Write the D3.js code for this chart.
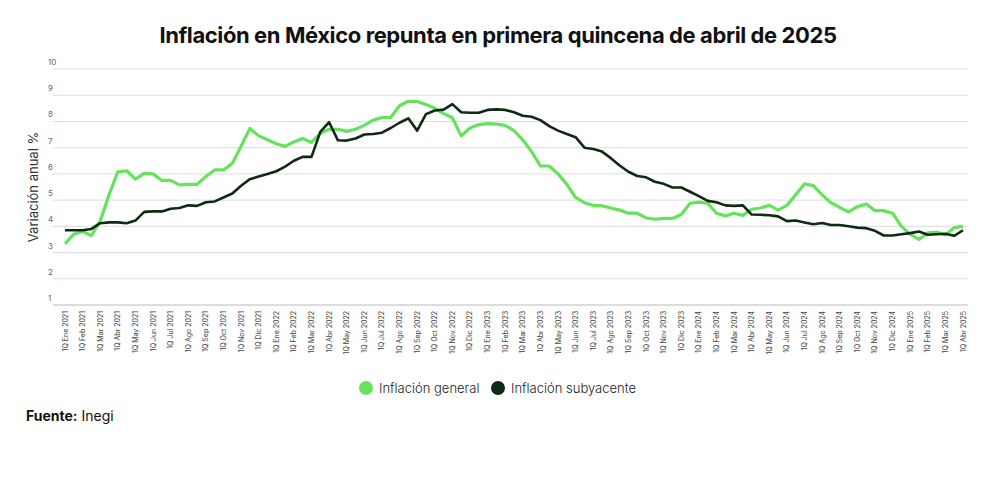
<!DOCTYPE html>
<html><head><meta charset="utf-8">
<script src="https://cdn.jsdelivr.net/npm/d3@7"></script>
<style>body{margin:0;background:#fff;font-family:Inter,"Noto Sans",sans-serif}</style>
</head><body><svg id="chart" width="1000" height="480"></svg>
<script>
const meses = ["Ene","Feb","Mar","Abr","May","Jun","Jul","Ago","Sep","Oct","Nov","Dic"]
// quincenas from 1Q Ene 2021 to 1Q Abr 2025
const general = [3.33,3.7,3.8,3.65,4.2,5.2,6.08,6.12,5.8,6.02,6.0,5.75,5.75,5.58,5.6,5.6,5.9,6.15,6.15,6.4,7.05,7.73,7.45,7.3,7.15,7.05,7.22,7.35,7.2,7.55,7.7,7.7,7.62,7.7,7.85,8.05,8.15,8.15,8.6,8.77,8.76,8.65,8.5,8.3,8.14,7.45,7.75,7.88,7.92,7.9,7.85,7.65,7.3,6.85,6.3,6.3,6.0,5.6,5.1,4.9,4.8,4.78,4.7,4.62,4.5,4.5,4.32,4.27,4.3,4.3,4.45,4.88,4.92,4.88,4.5,4.4,4.5,4.42,4.65,4.7,4.8,4.62,4.8,5.2,5.62,5.55,5.2,4.9,4.72,4.55,4.75,4.85,4.6,4.6,4.5,4.0,3.7,3.5,3.75,3.78,3.67,3.95,4.0]
const subyacente = [3.85,3.85,3.85,3.9,4.12,4.15,4.15,4.12,4.22,4.55,4.57,4.57,4.67,4.7,4.8,4.78,4.92,4.95,5.1,5.25,5.55,5.8,5.9,6.0,6.1,6.28,6.5,6.65,6.65,7.6,7.97,7.28,7.27,7.35,7.5,7.52,7.57,7.75,7.95,8.12,7.65,8.28,8.42,8.45,8.66,8.35,8.33,8.33,8.44,8.46,8.44,8.35,8.22,8.18,8.05,7.82,7.65,7.52,7.4,7.0,6.95,6.85,6.6,6.32,6.08,5.92,5.87,5.7,5.62,5.48,5.48,5.32,5.15,4.97,4.92,4.8,4.78,4.8,4.45,4.44,4.42,4.38,4.2,4.22,4.15,4.08,4.13,4.05,4.05,4.0,3.95,3.93,3.83,3.65,3.65,3.7,3.74,3.8,3.68,3.7,3.72,3.64,3.85]
const yTicks = [1,2,3,4,5,6,7,8,9,10]
const xLabels = d3.range(52).map(i => "1Q " + meses[i % 12] + " " + (2021 + Math.floor(i / 12)))

const svg = d3.select("#chart")
const x = d3.scaleLinear().domain([0, general.length - 1]).range([65, 963])
const y = d3.scaleLinear().domain([1, 10]).range([305, 69])

svg.append("text").attr("x", 498).attr("y", 43).attr("text-anchor", "middle")
  .attr("font-size", 22).attr("font-weight", 700).attr("fill", "#111").attr("letter-spacing", "-0.4")
  .text("Inflación en México repunta en primera quincena de abril de 2025")

const grid = svg.append("g")
grid.selectAll("line").data(yTicks).join("line")
  .attr("x1", 53).attr("x2", 968).attr("y1", d => y(d)).attr("y2", d => y(d))
  .attr("stroke", d => d === 1 ? "#bbb" : "#ddd").attr("stroke-width", 1)
grid.selectAll("text").data(yTicks).join("text")
  .attr("x", 48).attr("y", d => y(d) - 4).attr("text-anchor", "start")
  .attr("font-size", 8).attr("fill", "#666").text(d => d)

svg.append("text").attr("transform", "translate(38,187) rotate(-90)")
  .attr("text-anchor", "middle").attr("font-size", 13).attr("fill", "#333").text("Variación anual %")

svg.append("g").selectAll("text").data(xLabels).join("text")
  .attr("transform", (d, i) => `translate(${x(i * 2) + 2.5},311) rotate(-90)`)
  .attr("text-anchor", "end").attr("font-size", 7).attr("fill", "#444").text(d => d)

const line = d3.line().x((d, i) => x(i)).y(d => y(d))
svg.append("path").datum(general).attr("d", line).attr("fill", "none")
  .attr("stroke", "#66e35c").attr("stroke-width", 3.2).attr("stroke-linejoin", "round")
svg.append("path").datum(subyacente).attr("d", line).attr("fill", "none")
  .attr("stroke", "#0f2a12").attr("stroke-width", 2.6).attr("stroke-linejoin", "round")

const legend = [["Inflación general", "#66e35c", 366], ["Inflación subyacente", "#0f2a12", 498]]
const lg = svg.append("g").selectAll("g").data(legend).join("g")
lg.append("circle").attr("cx", d => d[2]).attr("cy", 388).attr("r", 7).attr("fill", d => d[1])
lg.append("text").attr("x", d => d[2] + 13).attr("y", 393).attr("font-size", 13)
  .attr("font-weight", 300).attr("fill", "#222").text(d => d[0])

const f = svg.append("text").attr("x", 26).attr("y", 421).attr("font-size", 14).attr("fill", "#111")
f.append("tspan").attr("font-weight", 700).text("Fuente:")
f.append("tspan").text(" Inegi")
</script></body></html>
